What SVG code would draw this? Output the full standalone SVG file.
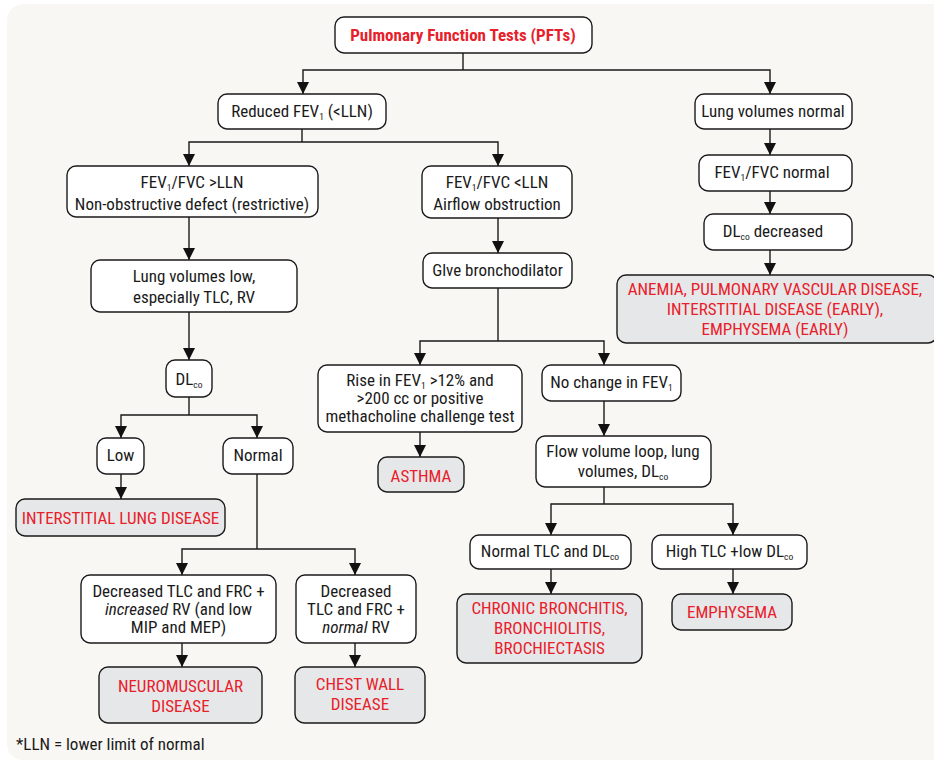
<svg xmlns="http://www.w3.org/2000/svg" width="934" height="764" viewBox="0 0 934 764">
  <defs>
    <marker id="arrow" markerUnits="userSpaceOnUse" viewBox="0 0 12 12" markerWidth="12" markerHeight="12" refX="12" refY="6" orient="auto">
      <path d="M0,0 L12,6 L0,12 z" fill="#111"/>
    </marker>
  </defs>
  <style>
    .bg { fill: #f8f7f3; }
    .box { fill: #ffffff; stroke: #1a1a1a; stroke-width: 1.4; }
    .dx { fill: #e6e7e9; stroke: #1a1a1a; stroke-width: 1.4; }
    .t { font-family: "Liberation Sans Narrow", "Roboto Condensed", "Liberation Sans", sans-serif; font-size: 17px; fill: #1a1a1a; text-anchor: middle; }
    .r { fill: #e8202a; }
    .b { font-weight: bold; }
    .s { font-size: 9.5px; }
    .conn path { fill: none; stroke: #1a1a1a; stroke-width: 1.4; }
    .conn path.a { marker-end: url(#arrow); }
  </style>

  <rect class="bg" x="7" y="4" width="945" height="756" rx="16"/>

  <!-- connectors -->
  <g id="connectors" class="conn">
    <path d="M463,53 V70"/>
    <path class="a" d="M463,70 H303 V94"/>
    <path class="a" d="M463,70 H770 V94"/>
    <path d="M302,129 V142"/>
    <path class="a" d="M302,142 H189 V166"/>
    <path class="a" d="M302,142 H498 V166"/>
    <path class="a" d="M189,217 V260"/>
    <path class="a" d="M189,312 V360"/>
    <path d="M189,397 V415"/>
    <path class="a" d="M189,415 H121 V438"/>
    <path class="a" d="M189,415 H257 V438"/>
    <path class="a" d="M121,474 V499"/>
    <path d="M257,474 V549"/>
    <path class="a" d="M257,549 H182 V575"/>
    <path class="a" d="M257,549 H355 V575"/>
    <path class="a" d="M182,643 V667"/>
    <path class="a" d="M355,643 V667"/>
    <path class="a" d="M498,218 V253"/>
    <path d="M498,288 V341"/>
    <path class="a" d="M498,341 H420 V365"/>
    <path class="a" d="M498,341 H604 V365"/>
    <path class="a" d="M420,432 V457"/>
    <path class="a" d="M604,401 V436"/>
    <path d="M604,487 V504"/>
    <path class="a" d="M604,504 H551 V535"/>
    <path class="a" d="M604,504 H733 V535"/>
    <path class="a" d="M551,569 V594"/>
    <path class="a" d="M733,569 V594"/>
    <path class="a" d="M770,129 V155"/>
    <path class="a" d="M770,191 V214"/>
    <path class="a" d="M770,250 V275"/>
  </g>

  <g id="pfts">
    <rect class="box" x="335" y="17" width="257" height="36" rx="9"/>
    <text class="t r b" x="463" y="41">Pulmonary Function Tests (PFTs)</text>
  </g>

  <g id="reduced-fev1">
    <rect class="box" x="218" y="94" width="168" height="35" rx="9"/>
    <text class="t" x="302" y="117">Reduced FEV<tspan class="s" dy="3">1</tspan><tspan dy="-3"> (&lt;LLN)</tspan></text>
  </g>

  <g id="lung-volumes-normal">
    <rect class="box" x="695" y="94" width="157" height="35" rx="9"/>
    <text class="t" x="773" y="117">Lung volumes normal</text>
  </g>

  <g id="restrictive">
    <rect class="box" x="67" y="166" width="251" height="51" rx="9"/>
    <text class="t" x="192" y="188">FEV<tspan class="s" dy="3">1</tspan><tspan dy="-3">/FVC &gt;LLN</tspan></text>
    <text class="t" x="192" y="210">Non-obstructive defect (restrictive)</text>
  </g>

  <g id="obstruction">
    <rect class="box" x="422" y="166" width="150" height="52" rx="9"/>
    <text class="t" x="497" y="188">FEV<tspan class="s" dy="3">1</tspan><tspan dy="-3">/FVC &lt;LLN</tspan></text>
    <text class="t" x="497" y="210">Airflow obstruction</text>
  </g>

  <g id="fev1-fvc-normal">
    <rect class="box" x="699" y="155" width="153" height="36" rx="9"/>
    <text class="t" x="772" y="178">FEV<tspan class="s" dy="3">1</tspan><tspan dy="-3">/FVC normal</tspan></text>
  </g>

  <g id="dlco-decreased">
    <rect class="box" x="704" y="214" width="148" height="36" rx="9"/>
    <text class="t" x="773" y="237">DL<tspan class="s" dy="3">co</tspan><tspan dy="-3"> decreased</tspan></text>
  </g>

  <g id="anemia">
    <rect class="dx" x="617" y="275" width="320" height="68" rx="9"/>
    <text class="t r" x="775" y="295">ANEMIA, PULMONARY VASCULAR DISEASE,</text>
    <text class="t r" x="775" y="315">INTERSTITIAL DISEASE (EARLY),</text>
    <text class="t r" x="775" y="335">EMPHYSEMA (EARLY)</text>
  </g>

  <g id="lung-volumes-low">
    <rect class="box" x="91" y="260" width="206" height="52" rx="9"/>
    <text class="t" x="194" y="282">Lung volumes low,</text>
    <text class="t" x="194" y="303">especially TLC, RV</text>
  </g>

  <g id="dlco">
    <rect class="box" x="166" y="360" width="46" height="37" rx="9"/>
    <text class="t" x="189" y="385">DL<tspan class="s" dy="3">co</tspan></text>
  </g>

  <g id="low">
    <rect class="box" x="97" y="438" width="47" height="36" rx="9"/>
    <text class="t" x="120.5" y="461">Low</text>
  </g>

  <g id="normal">
    <rect class="box" x="223" y="438" width="70" height="36" rx="9"/>
    <text class="t" x="258" y="461">Normal</text>
  </g>

  <g id="interstitial">
    <rect class="dx" x="16" y="499" width="209" height="37" rx="9"/>
    <text class="t r" x="120.5" y="524">INTERSTITIAL LUNG DISEASE</text>
  </g>

  <g id="increased-rv">
    <rect class="box" x="81" y="575" width="195" height="68" rx="9"/>
    <text class="t" x="178.5" y="597">Decreased TLC and FRC +</text>
    <text class="t" x="178.5" y="615"><tspan font-style="italic">increased</tspan> RV (and low</text>
    <text class="t" x="178.5" y="633">MIP and MEP)</text>
  </g>

  <g id="normal-rv">
    <rect class="box" x="296" y="575" width="120" height="68" rx="9"/>
    <text class="t" x="356" y="597">Decreased</text>
    <text class="t" x="356" y="615">TLC and FRC +</text>
    <text class="t" x="356" y="633"><tspan font-style="italic">normal</tspan> RV</text>
  </g>

  <g id="neuromuscular">
    <rect class="dx" x="99" y="667" width="163" height="56" rx="9"/>
    <text class="t r" x="180.5" y="692">NEUROMUSCULAR</text>
    <text class="t r" x="180.5" y="712">DISEASE</text>
  </g>

  <g id="chest-wall">
    <rect class="dx" x="295" y="667" width="130" height="56" rx="9"/>
    <text class="t r" x="360" y="690">CHEST WALL</text>
    <text class="t r" x="360" y="710">DISEASE</text>
  </g>

  <g id="bronchodilator">
    <rect class="box" x="423" y="253" width="149" height="35" rx="9"/>
    <text class="t" x="497.5" y="276">Glve bronchodilator</text>
  </g>

  <g id="rise-fev1">
    <rect class="box" x="318" y="365" width="204" height="67" rx="9"/>
    <text class="t" x="420" y="386">Rise in FEV<tspan class="s" dy="3">1</tspan><tspan dy="-3"> &gt;12% and</tspan></text>
    <text class="t" x="420" y="404">&gt;200 cc or positive</text>
    <text class="t" x="420" y="422">methacholine challenge test</text>
  </g>

  <g id="no-change">
    <rect class="box" x="542" y="365" width="139" height="36" rx="9"/>
    <text class="t" x="611.5" y="388">No change in FEV<tspan class="s" dy="3">1</tspan></text>
  </g>

  <g id="asthma">
    <rect class="dx" x="378" y="457" width="86" height="35" rx="9"/>
    <text class="t r" x="421" y="482">ASTHMA</text>
  </g>

  <g id="flow-volume">
    <rect class="box" x="536" y="436" width="175" height="51" rx="9"/>
    <text class="t" x="623" y="457">Flow volume loop, lung</text>
    <text class="t" x="623" y="477">volumes, DL<tspan class="s" dy="3">co</tspan></text>
  </g>

  <g id="normal-tlc">
    <rect class="box" x="470" y="535" width="161" height="34" rx="9"/>
    <text class="t" x="550" y="557">Normal TLC and DL<tspan class="s" dy="3">co</tspan></text>
  </g>

  <g id="high-tlc">
    <rect class="box" x="652" y="535" width="155" height="34" rx="9"/>
    <text class="t" x="729.5" y="557">High TLC +low DL<tspan class="s" dy="3">co</tspan></text>
  </g>

  <g id="chronic-bronchitis">
    <rect class="dx" x="457" y="594" width="185" height="69" rx="9"/>
    <text class="t r" x="549.5" y="614">CHRONIC BRONCHITIS,</text>
    <text class="t r" x="549.5" y="634">BRONCHIOLITIS,</text>
    <text class="t r" x="549.5" y="654">BROCHIECTASIS</text>
  </g>

  <g id="emphysema">
    <rect class="dx" x="672" y="594" width="120" height="36" rx="9"/>
    <text class="t r" x="732" y="618">EMPHYSEMA</text>
  </g>

  <text class="t" x="16" y="750" style="text-anchor:start">*LLN = lower limit of normal</text>
</svg>
